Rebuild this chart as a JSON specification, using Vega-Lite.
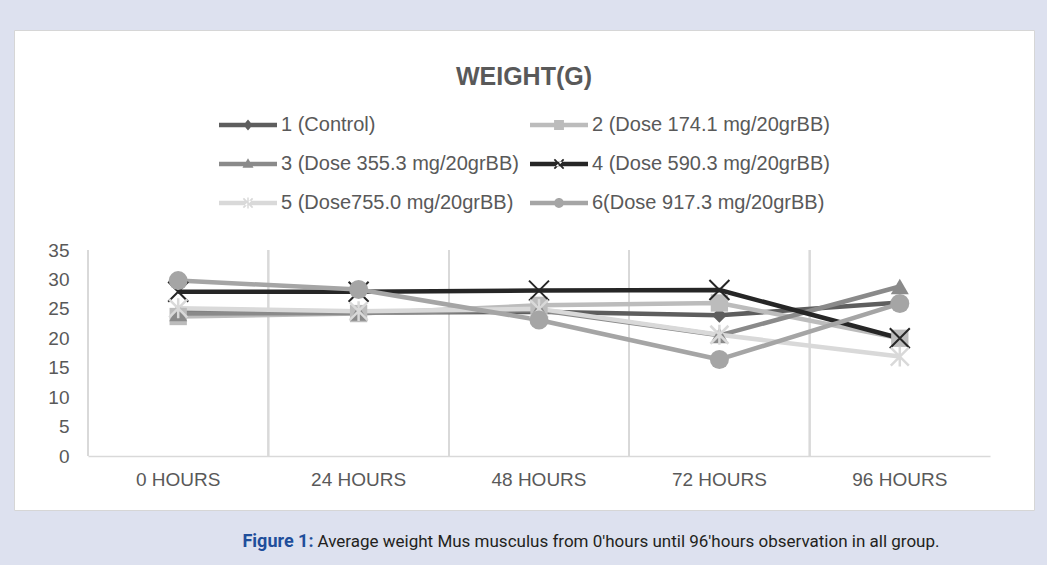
{
  "$schema": "https://vega.github.io/schema/vega-lite/v6.json",
  "width": 1020,
  "height": 480,
  "autosize": {"type": "none"},
  "padding": {"left": 14, "top": 30, "right": 13, "bottom": 55},
  "background": "#dde1ef",
  "config": {
    "view": {"fill": "white", "stroke": "#d6d6d6", "strokeWidth": 1},
    "font": "Liberation Sans"
  },
  "title": {
    "text": "WEIGHT(G)",
    "anchor": "middle",
    "frame": "group",
    "font": "Liberation Sans",
    "fontSize": 25,
    "fontWeight": "bold",
    "color": "#595959",
    "baseline": "alphabetic",
    "offset": -80,
    "dx": 0
  },
  "data": {
    "values": [
      {"time": "0 HOURS", "group": "1 (Control)", "weight": 24.4},
      {"time": "24 HOURS", "group": "1 (Control)", "weight": 24.4},
      {"time": "48 HOURS", "group": "1 (Control)", "weight": 24.5},
      {"time": "72 HOURS", "group": "1 (Control)", "weight": 23.9},
      {"time": "96 HOURS", "group": "1 (Control)", "weight": 26.1},
      {"time": "0 HOURS", "group": "2 (Dose 174.1 mg/20grBB)", "weight": 23.7},
      {"time": "24 HOURS", "group": "2 (Dose 174.1 mg/20grBB)", "weight": 24.2},
      {"time": "48 HOURS", "group": "2 (Dose 174.1 mg/20grBB)", "weight": 25.6},
      {"time": "72 HOURS", "group": "2 (Dose 174.1 mg/20grBB)", "weight": 26.0},
      {"time": "96 HOURS", "group": "2 (Dose 174.1 mg/20grBB)", "weight": 20.0},
      {"time": "0 HOURS", "group": "3 (Dose 355.3 mg/20grBB)", "weight": 24.2},
      {"time": "24 HOURS", "group": "3 (Dose 355.3 mg/20grBB)", "weight": 24.3},
      {"time": "48 HOURS", "group": "3 (Dose 355.3 mg/20grBB)", "weight": 24.8},
      {"time": "72 HOURS", "group": "3 (Dose 355.3 mg/20grBB)", "weight": 20.5},
      {"time": "96 HOURS", "group": "3 (Dose 355.3 mg/20grBB)", "weight": 28.8},
      {"time": "0 HOURS", "group": "4 (Dose 590.3 mg/20grBB)", "weight": 27.9},
      {"time": "24 HOURS", "group": "4 (Dose 590.3 mg/20grBB)", "weight": 27.9},
      {"time": "48 HOURS", "group": "4 (Dose 590.3 mg/20grBB)", "weight": 28.1},
      {"time": "72 HOURS", "group": "4 (Dose 590.3 mg/20grBB)", "weight": 28.2},
      {"time": "96 HOURS", "group": "4 (Dose 590.3 mg/20grBB)", "weight": 20.0},
      {"time": "0 HOURS", "group": "5 (Dose755.0 mg/20grBB)", "weight": 25.1},
      {"time": "24 HOURS", "group": "5 (Dose755.0 mg/20grBB)", "weight": 24.6},
      {"time": "48 HOURS", "group": "5 (Dose755.0 mg/20grBB)", "weight": 25.0},
      {"time": "72 HOURS", "group": "5 (Dose755.0 mg/20grBB)", "weight": 20.6},
      {"time": "96 HOURS", "group": "5 (Dose755.0 mg/20grBB)", "weight": 16.9},
      {"time": "0 HOURS", "group": "6(Dose 917.3 mg/20grBB)", "weight": 29.8},
      {"time": "24 HOURS", "group": "6(Dose 917.3 mg/20grBB)", "weight": 28.3},
      {"time": "48 HOURS", "group": "6(Dose 917.3 mg/20grBB)", "weight": 23.1},
      {"time": "72 HOURS", "group": "6(Dose 917.3 mg/20grBB)", "weight": 16.4},
      {"time": "96 HOURS", "group": "6(Dose 917.3 mg/20grBB)", "weight": 25.9}
    ]
  },
  "encoding": {
    "x": {
      "field": "time",
      "type": "nominal",
      "bandPosition": 0.5,
      "sort": ["0 HOURS", "24 HOURS", "48 HOURS", "72 HOURS", "96 HOURS"],
      "scale": {"type": "band", "range": [74, 976], "paddingInner": 0, "paddingOuter": 0},
      "axis": {
        "orient": "bottom",
        "offset": -54,
        "domain": true,
        "domainColor": "#d9d9d9",
        "domainWidth": 1.5,
        "ticks": false,
        "grid": false,
        "labelAngle": 0,
        "labelFont": "Liberation Sans",
        "labelFontSize": 19,
        "labelColor": "#595959",
        "labelPadding": 14,
        "title": "Average weight Mus musculus from 0'hours until 96'hours observation in all group.",
        "titleFont": "Roboto",
        "titleFontSize": 17,
        "titleFontWeight": "normal",
        "titleColor": "#231f20",
        "titleAlign": "left",
        "titleBaseline": "middle",
        "titleX": 303,
        "titleY": 85
      }
    },
    "y": {
      "field": "weight",
      "type": "quantitative",
      "scale": {"domain": [0, 35], "range": [426, 220], "nice": false, "zero": true},
      "axis": {
        "orient": "left",
        "offset": -74,
        "values": [0, 5, 10, 15, 20, 25, 30, 35],
        "domain": false,
        "ticks": false,
        "grid": false,
        "labelFont": "Liberation Sans",
        "labelFontSize": 19,
        "labelColor": "#595959",
        "labelPadding": 19,
        "title": "Figure 1:",
        "titleFont": "Roboto",
        "titleFontSize": 18,
        "titleFontWeight": "bold",
        "titleColor": "#1f4e9b",
        "titleAngle": 0,
        "titleAlign": "right",
        "titleBaseline": "middle",
        "titleX": 225,
        "titleY": 511
      }
    }
  },
  "layer": [
    {
      "mark": {"type": "rule", "color": "#d9d9d9", "strokeWidth": 1.5},
      "encoding": {
        "x": {"field": "time", "type": "nominal", "bandPosition": 0, "sort": ["0 HOURS", "24 HOURS", "48 HOURS", "72 HOURS", "96 HOURS"]},
        "y": {"datum": 0},
        "y2": {"datum": 35}
      }
    },
    {
      "mark": {"type": "line", "strokeWidth": 4.5, "strokeJoin": "round"},
      "encoding": {
        "detail": {"field": "group", "type": "nominal"},
        "stroke": {
          "condition": [
            {"test": "datum.group === '1 (Control)'", "value": "#5e5e5e"},
            {"test": "datum.group === '2 (Dose 174.1 mg/20grBB)'", "value": "#bcbcbc"},
            {"test": "datum.group === '3 (Dose 355.3 mg/20grBB)'", "value": "#8a8a8a"},
            {"test": "datum.group === '4 (Dose 590.3 mg/20grBB)'", "value": "#262626"},
            {"test": "datum.group === '5 (Dose755.0 mg/20grBB)'", "value": "#d9d9d9"}
          ],
          "value": "#a5a5a5"
        }
      }
    },
    {
      "transform": [{"filter": "datum.group === '1 (Control)'"}],
      "mark": {"type": "point", "shape": "diamond", "filled": true, "size": 225, "opacity": 1, "color": "#5e5e5e"}
    },
    {
      "transform": [{"filter": "datum.group === '2 (Dose 174.1 mg/20grBB)'"}],
      "mark": {"type": "point", "shape": "square", "filled": true, "size": 300, "opacity": 1, "color": "#bcbcbc"}
    },
    {
      "transform": [{"filter": "datum.group === '3 (Dose 355.3 mg/20grBB)'"}],
      "mark": {"type": "point", "shape": "triangle-up", "filled": true, "size": 324, "opacity": 1, "color": "#8a8a8a"}
    },
    {
      "transform": [{"filter": "datum.group === '4 (Dose 590.3 mg/20grBB)'"}],
      "mark": {"type": "point", "shape": "M-1,-1L1,1M1,-1L-1,1", "filled": false, "size": 400, "strokeWidth": 2, "opacity": 1, "color": "#262626"}
    },
    {
      "transform": [{"filter": "datum.group === '5 (Dose755.0 mg/20grBB)'"}],
      "mark": {"type": "point", "shape": "M-1,-1L1,1M1,-1L-1,1M0,-1.1L0,1.1", "filled": false, "size": 324, "strokeWidth": 2.5, "opacity": 1, "color": "#d9d9d9"}
    },
    {
      "transform": [{"filter": "datum.group === '6(Dose 917.3 mg/20grBB)'"}],
      "mark": {"type": "point", "shape": "circle", "filled": true, "size": 361, "opacity": 1, "color": "#a5a5a5"}
    },
    {
      "mark": {"type": "point", "filled": true, "size": 0},
      "encoding": {
        "shape": {
          "field": "group",
          "type": "nominal",
          "scale": {
            "domain": ["1 (Control)", "2 (Dose 174.1 mg/20grBB)", "3 (Dose 355.3 mg/20grBB)", "4 (Dose 590.3 mg/20grBB)", "5 (Dose755.0 mg/20grBB)", "6(Dose 917.3 mg/20grBB)"],
            "range": [
              "M-1,-0.08H1V0.08H-1Z M0,-0.19L0.16,0L0,0.19L-0.16,0Z",
              "M-1,-0.08H1V0.08H-1Z M-0.17,-0.17H0.17V0.17H-0.17Z",
              "M-1,-0.08H1V0.08H-1Z M0,-0.2L0.19,0.13L-0.19,0.13Z",
              "M-1,-0.08H1V0.08H-1Z M-0.139,-0.181L0.181,0.139L0.139,0.181L-0.181,-0.139Z M-0.139,0.181L0.181,-0.139L0.139,-0.181L-0.181,0.139Z",
              "M-1,-0.08H1V0.08H-1Z M-0.139,-0.181L0.181,0.139L0.139,0.181L-0.181,-0.139Z M-0.139,0.181L0.181,-0.139L0.139,-0.181L-0.181,0.139Z M-0.025,-0.19H0.025V0.19H-0.025Z",
              "M-1,-0.08H1V0.08H-1Z M0.17,0A0.17,0.17,0,1,1,-0.17,0A0.17,0.17,0,1,1,0.17,0Z"
            ]
          },
          "legend": {
            "orient": "none",
            "direction": "horizontal",
            "legendX": 205,
            "legendY": 66,
            "columns": 2,
            "columnPadding": 11,
            "rowPadding": 0,
            "padding": 0,
            "title": null,
            "labelFont": "Liberation Sans",
            "labelFontSize": 20,
            "labelColor": "#595959",
            "labelLimit": 400,
            "labelOffset": 4,
            "symbolSize": 3364,
            "symbolStrokeWidth": 0,
            "symbolOpacity": 1
          }
        },
        "color": {
          "field": "group",
          "type": "nominal",
          "scale": {
            "domain": ["1 (Control)", "2 (Dose 174.1 mg/20grBB)", "3 (Dose 355.3 mg/20grBB)", "4 (Dose 590.3 mg/20grBB)", "5 (Dose755.0 mg/20grBB)", "6(Dose 917.3 mg/20grBB)"],
            "range": ["#5e5e5e", "#bcbcbc", "#8a8a8a", "#262626", "#d9d9d9", "#a5a5a5"]
          },
          "legend": {
            "orient": "none",
            "direction": "horizontal",
            "legendX": 205,
            "legendY": 66,
            "columns": 2,
            "columnPadding": 11,
            "rowPadding": 0,
            "padding": 0,
            "title": null,
            "labelFont": "Liberation Sans",
            "labelFontSize": 20,
            "labelColor": "#595959",
            "labelLimit": 400,
            "labelOffset": 4,
            "symbolSize": 3364,
            "symbolStrokeWidth": 0,
            "symbolOpacity": 1
          }
        }
      }
    }
  ]
}
